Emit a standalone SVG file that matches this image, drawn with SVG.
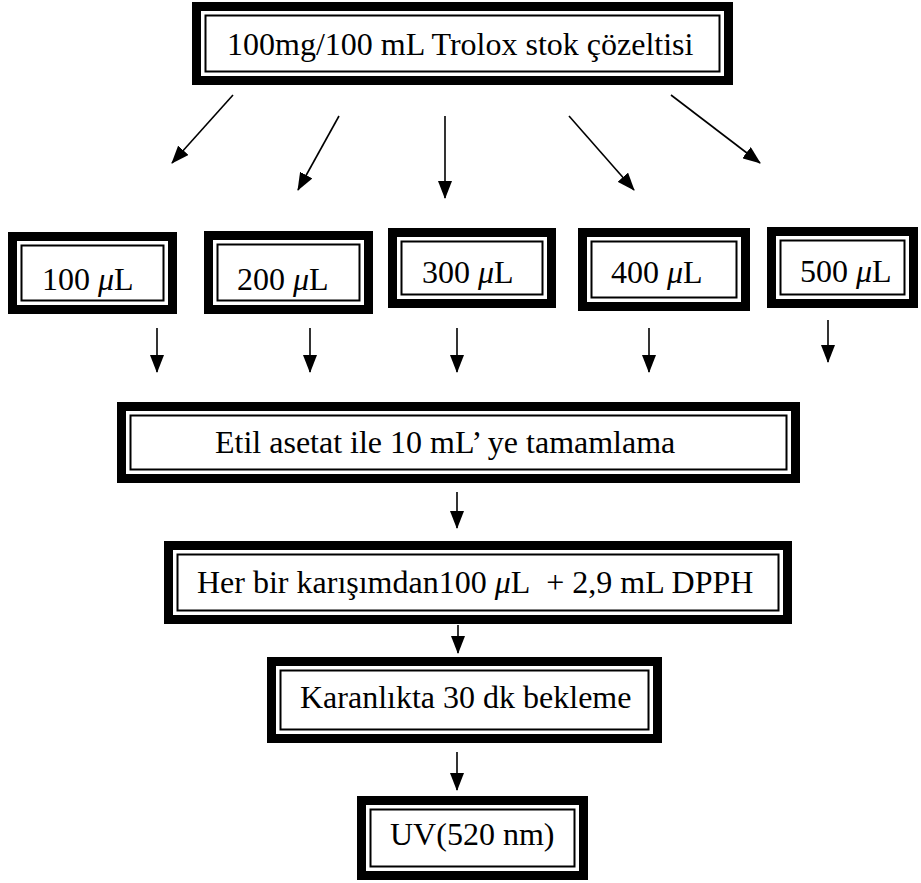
<svg xmlns="http://www.w3.org/2000/svg" width="921" height="883" viewBox="0 0 921 883">
<defs>
<style>
.thick{fill:#fff;stroke:#000;stroke-width:9}
.thin{fill:none;stroke:#000;stroke-width:2}
.t{font-family:"Liberation Serif","Times New Roman",serif;font-size:32px;fill:#000}
.mu{font-style:italic}
.c{stroke:#000;stroke-width:1.6;fill:none;marker-end:url(#ah)}
</style>
<marker id="ah" markerUnits="userSpaceOnUse" markerWidth="18" markerHeight="14" viewBox="0 0 18 14" refX="17" refY="7" orient="auto">
<path d="M0,0 L18,7 L0,14 z" fill="#000"/>
</marker>
</defs>
<rect width="921" height="883" fill="#fff"/>
<g id="n-stock">
<rect class="thick" x="196.5" y="6.5" width="532" height="74"/>
<rect class="thin" x="205.5" y="15.5" width="514" height="56"/>
<text class="t" x="227" y="55">100mg/100 mL Trolox stok çözeltisi</text>
</g>
<g id="n-100">
<rect class="thick" x="12.5" y="236.5" width="160" height="73"/>
<rect class="thin" x="21.5" y="245.5" width="142" height="55"/>
<text class="t" x="42" y="290">100 <tspan class="mu">μ</tspan>L</text>
</g>
<g id="n-200">
<rect class="thick" x="208.5" y="235.5" width="160" height="74"/>
<rect class="thin" x="217.5" y="244.5" width="142" height="56"/>
<text class="t" x="237" y="290">200 <tspan class="mu">μ</tspan>L</text>
</g>
<g id="n-300">
<rect class="thick" x="392.5" y="232.5" width="159" height="71"/>
<rect class="thin" x="401.5" y="241.5" width="141" height="53"/>
<text class="t" x="422" y="283">300 <tspan class="mu">μ</tspan>L</text>
</g>
<g id="n-400">
<rect class="thick" x="582.5" y="232.5" width="163" height="74"/>
<rect class="thin" x="591.5" y="241.5" width="145" height="56"/>
<text class="t" x="611" y="283">400 <tspan class="mu">μ</tspan>L</text>
</g>
<g id="n-500">
<rect class="thick" x="771.5" y="231.5" width="142" height="72"/>
<rect class="thin" x="780.5" y="240.5" width="124" height="54"/>
<text class="t" x="800" y="282">500 <tspan class="mu">μ</tspan>L</text>
</g>
<g id="n-etil">
<rect class="thick" x="121.5" y="406.5" width="674" height="72"/>
<rect class="thin" x="130.5" y="415.5" width="656" height="54"/>
<text class="t" x="215" y="453">Etil asetat ile 10 mL’ ye tamamlama</text>
</g>
<g id="n-her">
<rect class="thick" x="168.5" y="545.5" width="619" height="74"/>
<rect class="thin" x="177.5" y="554.5" width="601" height="56"/>
<text class="t" x="197" y="593">Her bir karışımdan100 <tspan class="mu">μ</tspan>L&#160; + 2,9 mL DPPH</text>
</g>
<g id="n-karanlik">
<rect class="thick" x="271.5" y="661.5" width="386" height="77"/>
<rect class="thin" x="280.5" y="670.5" width="368" height="59"/>
<text class="t" x="300" y="708">Karanlıkta 30 dk bekleme</text>
</g>
<g id="n-uv">
<rect class="thick" x="361.5" y="800.5" width="222" height="75"/>
<rect class="thin" x="370.5" y="809.5" width="204" height="57"/>
<text class="t" x="390" y="845">UV(520 nm)</text>
</g>
<g id="connectors">
<line class="c" x1="233" y1="95" x2="172" y2="163"/>
<line class="c" x1="339" y1="116" x2="298" y2="190"/>
<line class="c" x1="445" y1="116" x2="445" y2="198"/>
<line class="c" x1="569" y1="116" x2="634" y2="190"/>
<line class="c" x1="671" y1="95" x2="760" y2="163"/>
<line class="c" x1="157" y1="328" x2="157" y2="372"/>
<line class="c" x1="310" y1="328" x2="310" y2="372"/>
<line class="c" x1="457" y1="328" x2="457" y2="372"/>
<line class="c" x1="649" y1="328" x2="649" y2="372"/>
<line class="c" x1="828" y1="320" x2="828" y2="362"/>
<line class="c" x1="457" y1="492" x2="457" y2="528"/>
<line class="c" x1="458" y1="625" x2="458" y2="653"/>
<line class="c" x1="457" y1="752" x2="457" y2="790"/>
</g>
</svg>
